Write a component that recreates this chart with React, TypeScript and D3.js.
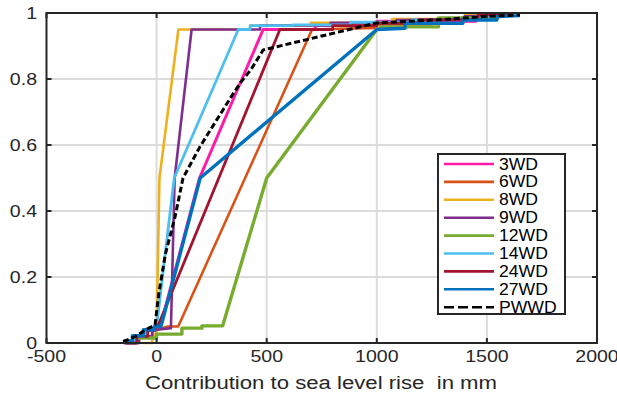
import React from "react";
import * as d3 from "d3";

const W = 617;
const H = 394;

const xTicks = [-500, 0, 500, 1000, 1500, 2000];
const yTicks = [0, 0.2, 0.4, 0.6, 0.8, 1];
const yTickLabels = ["0", "0.2", "0.4", "0.6", "0.8", "1"];
const xLabel = "Contribution to sea level rise  in mm";

const seriesNames = ["3WD", "6WD", "8WD", "9WD", "12WD", "14WD", "24WD", "27WD", "PWWD"];
const seriesColors = ["#ff1aa8", "#d95319", "#edb120", "#7e2f8e", "#77ac30", "#4dbeee", "#a2142f", "#0072bd", "#000000"];

const x3WD = [-150, -100, -100, -50, -50, 0, 17, 195, 484, 720, 720, 1000, 1000, 1450, 1450, 1600];
const y3WD = [0, 0, 0.02, 0.02, 0.035, 0.045, 0.05, 0.5, 0.95, 0.95, 0.962, 0.962, 0.975, 0.975, 0.99, 0.993];

const x6WD = [-130, -80, -80, -20, -20, 50, 98, 706, 1000, 1000, 1250, 1250, 1500, 1500, 1580];
const y6WD = [0, 0, 0.02, 0.02, 0.035, 0.05, 0.05, 0.95, 0.955, 0.965, 0.965, 0.98, 0.98, 0.99, 0.99];

const x8WD = [-60, -20, -20, 0, 0, 13, 99, 425, 425, 700, 700, 1070, 1070, 1400, 1400, 1500];
const y8WD = [0, 0, 0.02, 0.03, 0.05, 0.5, 0.95, 0.95, 0.962, 0.962, 0.97, 0.97, 0.982, 0.982, 0.994, 0.995];

const x9WD = [-140, -80, -80, -20, -20, 0, 65, 82, 159, 470, 470, 790, 790, 1090, 1090, 1400, 1400, 1550];
const y9WD = [0, 0, 0.02, 0.02, 0.035, 0.04, 0.045, 0.5, 0.95, 0.95, 0.962, 0.962, 0.97, 0.97, 0.979, 0.979, 0.99, 0.992];

const x12WD = [-125, -90, 0, 0, 115, 115, 206, 206, 300, 500, 1000, 1020, 1280, 1280, 1550, 1550, 1600];
const y12WD = [0.003, 0.015, 0.015, 0.027, 0.027, 0.045, 0.045, 0.052, 0.052, 0.5, 0.95, 0.958, 0.958, 0.985, 0.985, 0.995, 0.995];

const x14WD = [-145, -100, -100, -50, -50, 0, 80, 371, 425, 425, 620, 620, 880, 880, 1160, 1160, 1450, 1450, 1530];
const y14WD = [0, 0, 0.02, 0.02, 0.04, 0.05, 0.5, 0.95, 0.95, 0.962, 0.962, 0.964, 0.964, 0.972, 0.972, 0.98, 0.98, 0.99, 0.99];

const x24WD = [-140, -90, -90, -40, -40, 5, 560, 800, 800, 1000, 1000, 1190, 1190, 1460, 1460, 1600];
const y24WD = [0, 0, 0.02, 0.02, 0.035, 0.05, 0.95, 0.95, 0.962, 0.962, 0.969, 0.969, 0.98, 0.98, 0.994, 0.995];

const x27WD = [-150, -110, -110, -60, -60, -10, -10, 20, 198, 1000, 1128, 1128, 1391, 1391, 1545, 1545, 1650];
const y27WD = [0.006, 0.006, 0.022, 0.022, 0.04, 0.04, 0.05, 0.05, 0.5, 0.95, 0.954, 0.969, 0.969, 0.979, 0.979, 0.989, 0.992];

const xPWWD = [-152, -98, -53, -7, 10, 40, 84, 120, 197, 273, 333, 379, 430, 484, 1000, 1300, 1500, 1650];
const yPWWD = [0.004, 0.019, 0.039, 0.055, 0.15, 0.27, 0.383, 0.5, 0.595, 0.676, 0.74, 0.787, 0.83, 0.888, 0.97, 0.98, 0.99, 0.994];

const seriesX = [x3WD, x6WD, x8WD, x9WD, x12WD, x14WD, x24WD, x27WD, xPWWD];
const seriesY = [y3WD, y6WD, y8WD, y9WD, y12WD, y14WD, y24WD, y27WD, yPWWD];

export default function App() {
  const left = 46.5, right = 597, top = 13, bottom = 343;
  const x = d3.scaleLinear().domain([-500, 2000]).range([left, right]);
  const y = d3.scaleLinear().domain([0, 1]).range([bottom, top]);
  const line = d3.line<[number, number]>().x(d => x(d[0])).y(d => y(d[1]));
  const font = "'Liberation Sans', Arial, Helvetica, sans-serif";
  const widths = [3, 2.6, 2.6, 2.6, 3.4, 2.8, 2.8, 3.4, 3];

  const legX = 438, legY = 154, legW = 127, legH = 160, rowH = 17.9;
  const sx = 1.15;

  return (
    <svg width={W} height={H} style={{ position: "absolute", left: 0, top: 0 }}>
      <rect x={0} y={0} width={W} height={H} fill="#fff" />
      {xTicks.slice(1, -1).map(t => (
        <line key={"gx" + t} x1={x(t)} x2={x(t)} y1={top} y2={bottom} stroke="#dcdcdc" strokeWidth={2} />
      ))}
      {yTicks.slice(1, -1).map(t => (
        <line key={"gy" + t} x1={left} x2={right} y1={y(t)} y2={y(t)} stroke="#dcdcdc" strokeWidth={2} />
      ))}
      {seriesX.map((xs, i) => {
        const pts = xs.map((v, j) => [v, seriesY[i][j]] as [number, number]);
        return (
          <path key={seriesNames[i]} d={line(pts) || ""} fill="none" stroke={seriesColors[i]}
            strokeWidth={widths[i]} strokeLinejoin="round"
            strokeDasharray={seriesNames[i] === "PWWD" ? "6,3" : undefined} />
        );
      })}
      <rect x={left} y={top} width={right - left} height={bottom - top} fill="none" stroke="#262626" strokeWidth={2} />
      {xTicks.map(t => (
        <g key={"tx" + t}>
          <line x1={x(t)} x2={x(t)} y1={bottom} y2={bottom - 5} stroke="#262626" strokeWidth={2} />
          <line x1={x(t)} x2={x(t)} y1={top} y2={top + 5} stroke="#262626" strokeWidth={2} />
          <text transform={`translate(${x(t)},362) scale(${sx},1)`} textAnchor="middle" fontFamily={font} fontSize={17} fill="#262626">{t}</text>
        </g>
      ))}
      {yTicks.map((t, i) => (
        <g key={"ty" + t}>
          <line x1={left} x2={left + 5} y1={y(t)} y2={y(t)} stroke="#262626" strokeWidth={2} />
          <line x1={right} x2={right - 5} y1={y(t)} y2={y(t)} stroke="#262626" strokeWidth={2} />
          <text transform={`translate(37,${y(t) + 5.5}) scale(${sx},1)`} textAnchor="end" fontFamily={font} fontSize={17} fill="#262626">{yTickLabels[i]}</text>
        </g>
      ))}
      <text x={321} y={389} textAnchor="middle" fontFamily={font} fontSize={18} fill="#262626"
        textLength={352} lengthAdjust="spacingAndGlyphs" style={{ whiteSpace: "pre" }}>{xLabel}</text>
      <rect x={legX} y={legY} width={legW} height={legH} fill="#fff" stroke="#262626" strokeWidth={2} />
      {seriesNames.map((n, i) => {
        const ry = legY + 10 + i * rowH;
        return (
          <g key={"lg" + n}>
            <line x1={legX + 6} x2={legX + 56} y1={ry} y2={ry} stroke={seriesColors[i]} strokeWidth={2.6}
              strokeDasharray={n === "PWWD" ? "10,4" : undefined} />
            <text transform={`translate(${legX + 61},${ry + 5.5}) scale(1.1,1)`} fontFamily={font} fontSize={16} fill="#000">{n}</text>
          </g>
        );
      })}
    </svg>
  );
}
